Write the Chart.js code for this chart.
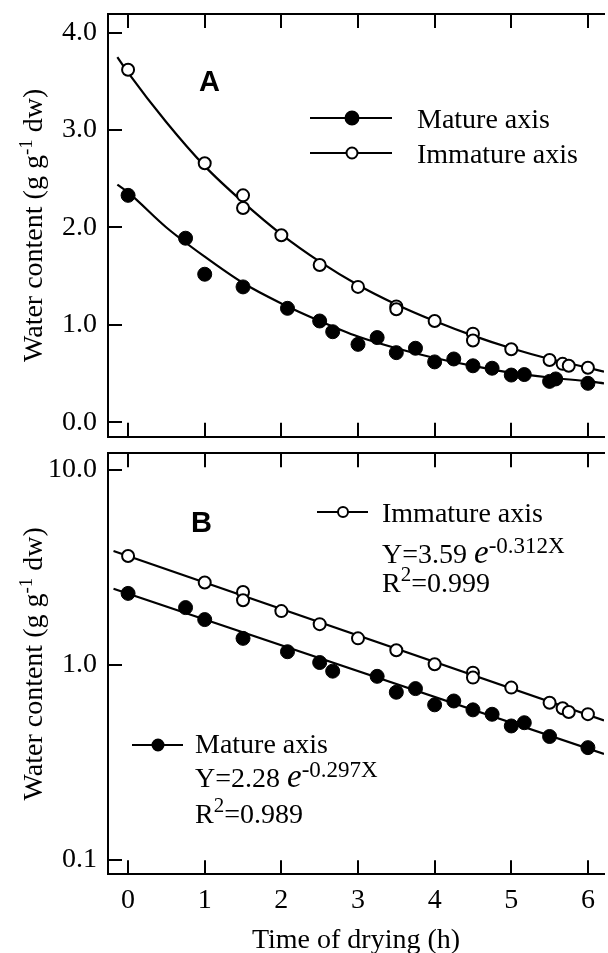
<!DOCTYPE html>
<html>
<head>
<meta charset="utf-8">
<script src="https://cdn.jsdelivr.net/npm/chart.js@4.4.1/dist/chart.umd.min.js"></script>
<style>
  html, body { margin: 0; padding: 0; background: #fff; }
  #wrap { position: relative; width: 608px; height: 953px; overflow: hidden; background: #fff; }
  #wrap canvas { position: absolute; left: 0; }
  #panelA { top: 0; }
  #panelB { top: 445px; }
</style>
</head>
<body>
<div id="wrap">
  <canvas id="panelA" width="612" height="445"></canvas>
  <canvas id="panelB" width="612" height="520"></canvas>
</div>
<script>
/* ---------------- Data: panel A (linear) ---------------- */

const matureHoursA = [0, 0.75, 1.0, 1.5, 2.08, 2.5, 2.67, 3.0, 3.25, 3.5, 3.75, 4.0, 4.25, 4.5, 4.75, 5.0, 5.17, 5.5, 5.58, 6.0];
const matureWaterA = [2.33, 1.89, 1.52, 1.39, 1.17, 1.04, 0.93, 0.80, 0.87, 0.715, 0.76, 0.62, 0.65, 0.58, 0.555, 0.485, 0.49, 0.42, 0.445, 0.40];

const immatureHoursA = [0, 1.0, 1.5, 1.5, 2.0, 2.5, 3.0, 3.5, 3.5, 4.0, 4.5, 4.5, 5.0, 5.5, 5.67, 5.75, 6.0];
const immatureWaterA = [3.62, 2.66, 2.33, 2.20, 1.92, 1.615, 1.39, 1.19, 1.16, 1.04, 0.91, 0.84, 0.75, 0.64, 0.60, 0.58, 0.56];

const fitHoursA = [-0.14, 0, 0.5, 1, 1.5, 2, 2.5, 3, 3.5, 4, 4.5, 5, 5.5, 6, 6.21];
const immatureFitA = [3.75, 3.59, 3.08, 2.63, 2.26, 1.93, 1.65, 1.41, 1.21, 1.04, 0.89, 0.76, 0.65, 0.56, 0.52];
const matureFitA = [2.44, 2.36, 2.0, 1.70, 1.43, 1.22, 1.04, 0.88, 0.76, 0.66, 0.58, 0.51, 0.46, 0.42, 0.40];

/* ---------------- Data: panel B (log) ---------------- */

const matureHoursB = [0, 0.75, 1.0, 1.5, 2.08, 2.5, 2.67, 3.25, 3.5, 3.75, 4.0, 4.25, 4.5, 4.75, 5.0, 5.17, 5.5, 6.0];
const matureWaterB = [2.33, 1.97, 1.71, 1.37, 1.17, 1.03, 0.93, 0.875, 0.725, 0.757, 0.625, 0.654, 0.589, 0.559, 0.487, 0.506, 0.43, 0.377];

const immatureHoursB = [0, 1.0, 1.5, 1.5, 2.0, 2.5, 3.0, 3.5, 4.0, 4.5, 4.5, 5.0, 5.5, 5.67, 5.75, 6.0];
const immatureWaterB = [3.62, 2.65, 2.37, 2.15, 1.89, 1.62, 1.37, 1.19, 1.01, 0.914, 0.862, 0.766, 0.64, 0.60, 0.574, 0.56];

const fitHoursB = [-0.19, 6.21];
const immatureFitB = [3.84, 0.52];
const matureFitB = [2.46, 0.35];

/* ---------------- Axes ---------------- */

const xTicks = [0, 1, 2, 3, 4, 5, 6];
const xLabels = ["0", "1", "2", "3", "4", "5", "6"];
const yTicksA = [0, 1, 2, 3, 4];
const yLabelsA = ["0.0", "1.0", "2.0", "3.0", "4.0"];
const yTicksB = [0.1, 1, 10];
const yLabelsB = ["0.1", "1.0", "10.0"];

const X_MIN = -0.262;
const X_MAX = 6.21;

/* ---------------- Helpers ---------------- */

const SERIF = "'Liberation Serif', 'Times New Roman', serif";
const SANS = "'Liberation Sans', Arial, sans-serif";

Chart.defaults.font.family = SERIF;
Chart.defaults.color = "#000";

const pts = (xs, ys) => xs.map((x, i) => ({ x, y: ys[i] }));

function frame() {
    return { display: true, color: "#000", width: 2 };
}

function inwardTicks() {
    return {
        display: true,
        drawOnChartArea: false,
        drawTicks: true,
        tickLength: -14,
        color: "#000",
        lineWidth: 2
    };
}

function fixSize(prop, size) {
    return function (scale) {
        scale[prop] = size;
        scale.paddingTop = 0;
        scale.paddingBottom = 0;
        scale.paddingLeft = 0;
        scale.paddingRight = 0;
    };
}

function setTicks(values) {
    return function (scale) {
        scale.ticks = values.map(v => ({ value: v }));
    };
}

function xAxis(position, size, labels) {
    return {
        type: "linear",
        position,
        min: X_MIN,
        max: X_MAX,
        afterBuildTicks: setTicks(xTicks),
        ticks: {
            display: labels,
            padding: 24,
            font: { family: SERIF, size: 28 },
            color: "#000",
            callback: (v, i) => xLabels[i]
        },
        grid: inwardTicks(),
        border: frame(),
        afterFit: fixSize("height", size)
    };
}

function scatterSet(data, filled) {
    return {
        type: "scatter",
        data,
        showLine: false,
        pointStyle: "circle",
        pointRadius: filled ? 7 : 6,
        pointBorderWidth: filled ? 1 : 2,
        pointBackgroundColor: filled ? "#000" : "#fff",
        pointBorderColor: "#000"
    };
}

function fitSet(data, curved) {
    return {
        type: "line",
        data,
        borderColor: "#000",
        borderWidth: 2.2,
        pointRadius: 0,
        fill: false,
        cubicInterpolationMode: curved ? "monotone" : "default",
        tension: 0
    };
}

function drawRuns(ctx, x, y, runs) {
    let cx = x;
    runs.forEach(r => {
        ctx.font = r.font;
        ctx.fillText(r.text, cx, y - (r.rise || 0));
        cx += ctx.measureText(r.text).width;
    });
    return cx;
}

function runsWidth(ctx, runs) {
    let w = 0;
    runs.forEach(r => {
        ctx.font = r.font;
        w += ctx.measureText(r.text).width;
    });
    return w;
}

function legendSample(ctx, x1, x2, y, mx, r, filled) {
    ctx.save();
    ctx.strokeStyle = "#000";
    ctx.lineWidth = 2.2;
    ctx.beginPath();
    ctx.moveTo(x1, y);
    ctx.lineTo(x2, y);
    ctx.stroke();
    ctx.beginPath();
    ctx.arc(mx, y, r, 0, Math.PI * 2);
    ctx.fillStyle = filled ? "#000" : "#fff";
    ctx.fill();
    ctx.lineWidth = 2;
    ctx.stroke();
    ctx.restore();
}

const F = size => `${size}px ${SERIF}`;
const FI = size => `italic ${size}px ${SERIF}`;

const yTitleRuns = [
    { text: "Water content (g g", font: F(28) },
    { text: "-1", font: F(19), rise: 10 },
    { text: " dw)", font: F(28) }
];

function drawYTitle(chart) {
    const ctx = chart.ctx;
    const area = chart.chartArea;
    const w = runsWidth(ctx, yTitleRuns);
    ctx.save();
    ctx.fillStyle = "#000";
    ctx.textBaseline = "alphabetic";
    ctx.translate(42, (area.top + area.bottom) / 2);
    ctx.rotate(-Math.PI / 2);
    drawRuns(ctx, -w / 2, 0, yTitleRuns);
    ctx.restore();
}

/* ---------------- Panel A ---------------- */

const panelAText = {
    id: "panelAText",
    afterDraw(chart) {
        const ctx = chart.ctx;
        drawYTitle(chart);
        ctx.save();
        ctx.fillStyle = "#000";
        ctx.textBaseline = "alphabetic";
        ctx.font = `bold 29px ${SANS}`;
        ctx.fillText("A", 199, 91);
        legendSample(ctx, 310, 392, 118, 352, 6.5, true);
        legendSample(ctx, 310, 392, 153, 352, 5.5, false);
        ctx.font = F(28);
        ctx.fillText("Mature axis", 417, 128);
        ctx.fillText("Immature axis", 417, 163);
        ctx.restore();
    }
};

new Chart(document.getElementById("panelA"), {
    type: "scatter",
    data: {
        datasets: [
            scatterSet(pts(matureHoursA, matureWaterA), true),
            scatterSet(pts(immatureHoursA, immatureWaterA), false),
            fitSet(pts(fitHoursA, matureFitA), true),
            fitSet(pts(fitHoursA, immatureFitA), true)
        ]
    },
    options: {
        responsive: false,
        animation: false,
        events: [],
        layout: { padding: { left: 0, top: 0, right: 2, bottom: 0 } },
        plugins: { legend: { display: false }, tooltip: { enabled: false } },
        scales: {
            x: xAxis("bottom", 445 - 436.7, false),
            xTop: xAxis("top", 14, false),
            y: {
                type: "linear",
                position: "left",
                min: -0.148,
                max: 4.192,
                afterBuildTicks: setTicks(yTicksA),
                ticks: {
                    padding: 25,
                    font: { family: SERIF, size: 28 },
                    color: "#000",
                    callback: (v, i) => yLabelsA[i]
                },
                grid: inwardTicks(),
                border: frame(),
                afterFit: fixSize("width", 108)
            }
        }
    },
    plugins: [panelAText]
});

/* ---------------- Panel B ---------------- */

function drawEquation(ctx, x, y, a, k) {
    drawRuns(ctx, x, y, [
        { text: `Y=${a} `, font: F(28) },
        { text: "e", font: FI(33) },
        { text: `-${k}X`, font: F(23), rise: 10 }
    ]);
}

function drawR2(ctx, x, y, r2) {
    drawRuns(ctx, x, y, [
        { text: "R", font: F(28) },
        { text: "2", font: F(21), rise: 11 },
        { text: `=${r2}`, font: F(28) }
    ]);
}

const panelBText = {
    id: "panelBText",
    afterDraw(chart) {
        const ctx = chart.ctx;
        drawYTitle(chart);
        ctx.save();
        ctx.fillStyle = "#000";
        ctx.textBaseline = "alphabetic";
        ctx.font = `bold 29px ${SANS}`;
        ctx.fillText("B", 191, 87);

        legendSample(ctx, 317, 368, 67, 343, 5, false);
        ctx.font = F(28);
        ctx.fillText("Immature axis", 382, 77);
        drawEquation(ctx, 382, 118, "3.59", "0.312");
        drawR2(ctx, 382, 147, "0.999");

        legendSample(ctx, 132, 183, 300, 158, 5.5, true);
        ctx.font = F(28);
        ctx.fillText("Mature axis", 195, 308);
        drawEquation(ctx, 195, 342, "2.28", "0.297");
        drawR2(ctx, 195, 378, "0.989");
        ctx.restore();
    }
};

const xBottomB = xAxis("bottom", 520 - 429.3, true);
xBottomB.title = {
    display: true,
    text: "Time of drying (h)",
    font: { family: SERIF, size: 28 },
    color: "#000",
    padding: { top: 0, bottom: 8 }
};

new Chart(document.getElementById("panelB"), {
    type: "scatter",
    data: {
        datasets: [
            scatterSet(pts(matureHoursB, matureWaterB), true),
            scatterSet(pts(immatureHoursB, immatureWaterB), false),
            fitSet(pts(fitHoursB, matureFitB), false),
            fitSet(pts(fitHoursB, immatureFitB), false)
        ]
    },
    options: {
        responsive: false,
        animation: false,
        events: [],
        layout: { padding: { left: 0, top: 0, right: 2, bottom: 0 } },
        plugins: { legend: { display: false }, tooltip: { enabled: false } },
        scales: {
            x: xBottomB,
            xTop: xAxis("top", 8.3, false),
            y: {
                type: "logarithmic",
                position: "left",
                min: 0.0845,
                max: 12.18,
                afterBuildTicks: setTicks(yTicksB),
                ticks: {
                    padding: 25,
                    font: { family: SERIF, size: 28 },
                    color: "#000",
                    callback: (v, i) => yLabelsB[i]
                },
                grid: inwardTicks(),
                border: frame(),
                afterFit: fixSize("width", 108)
            }
        }
    },
    plugins: [panelBText]
});
</script>
</body>
</html>
